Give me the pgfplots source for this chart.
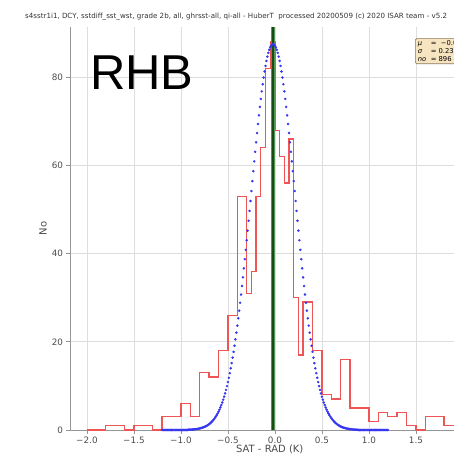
\documentclass[border=0pt]{standalone}
\usepackage{pgfplots}
\pgfplotsset{compat=1.18}
\usepackage{fontspec}
\setmainfont{DejaVu Sans}
\newfontfamily\rhbfont{Liberation Sans}
\definecolor{histred}{RGB}{240,85,85}
\definecolor{dotblue}{RGB}{55,55,240}
\definecolor{meangreen}{RGB}{80,150,80}
\definecolor{meandark}{RGB}{25,75,25}
\definecolor{gridgray}{RGB}{222,222,222}
\definecolor{spinegray}{RGB}{150,150,150}
\definecolor{boxfill}{RGB}{247,228,192}
\definecolor{boxdraw}{RGB}{140,120,90}
\begin{document}
\begin{tikzpicture}
\begin{axis}[
  at={(0pt,0pt)}, anchor=south west,
  scale only axis, width=399.5pt, height=403pt,
  xmin=-2.18, xmax=2.07, ymin=0, ymax=91.4,
  axis x line*=bottom, axis y line*=left,
  axis line style={spinegray, line width=0.8pt},
  xtick={-2,-1.5,-1,-0.5,0,0.5,1,1.5,2},
  xticklabels={−2.0,−1.5,−1.0,−0.5,0.0,0.5,1.0,1.5,2.0},
  ytick={0,20,40,60,80},
  grid=major, major grid style={gridgray, line width=0.8pt},
  tick align=outside, major tick length=3.5pt,
  tick style={spinegray, line width=0.8pt},
  /pgf/number format/assume math mode=true,
  ticklabel style={font=\fontsize{8.8}{10}\selectfont, text=black!70},
  xlabel={SAT - RAD (K)}, ylabel={No},
  label style={font=\fontsize{10}{12}\selectfont, text=black!70},
  xlabel style={at={(rel axis cs:0.5,0)}, anchor=center, yshift=-19pt},
  ylabel style={at={(rel axis cs:0,0.5)}, anchor=center, rotate=0, yshift=27pt},
]
\addplot[histred, line width=1.3pt, const plot mark left] coordinates {
(-2.0,0) (-1.8,1) (-1.6,0) (-1.5,1) (-1.3,0) (-1.2,3) (-1.0,6) (-0.9,3)
(-0.8,13) (-0.7,12) (-0.6,18) (-0.5,26) (-0.4,53) (-0.3,31) (-0.25,36)
(-0.2,53) (-0.15,64) (-0.1,82) (-0.05,88) (0.0,68) (0.05,62) (0.1,56)
(0.15,66) (0.2,30) (0.25,17) (0.3,29) (0.4,18) (0.5,8) (0.6,7) (0.7,16)
(0.8,5) (1.0,2) (1.1,4) (1.2,3) (1.3,4) (1.4,1) (1.5,0) (1.6,3) (1.8,1) (2.0,0)
};
\addplot[only marks, mark=*, mark size=1.05pt, dotblue] table {
x y
-1.20 0
-1.19 0
-1.18 0
-1.17 0
-1.16 0
-1.15 0
-1.14 0
-1.13 0
-1.12 0
-1.11 0
-1.10 0
-1.09 0
-1.08 0
-1.07 0
-1.06 0
-1.05 0
-1.04 0
-1.03 0
-1.02 0
-1.01 0
-1.00 0
-0.99 0
-0.98 0
-0.97 0
-0.96 0
-0.95 0
-0.94 0
-0.93 0
-0.92 0.06
-0.91 0.07
-0.90 0.08
-0.89 0.09
-0.88 0.11
-0.87 0.13
-0.86 0.15
-0.85 0.17
-0.84 0.20
-0.83 0.23
-0.82 0.27
-0.81 0.31
-0.80 0.35
-0.79 0.41
-0.78 0.47
-0.77 0.54
-0.76 0.61
-0.75 0.70
-0.74 0.80
-0.73 0.91
-0.72 1.04
-0.71 1.18
-0.70 1.33
-0.69 1.50
-0.68 1.69
-0.67 1.91
-0.66 2.14
-0.65 2.41
-0.64 2.69
-0.63 3.01
-0.62 3.36
-0.61 3.74
-0.60 4.16
-0.59 4.62
-0.58 5.12
-0.57 5.66
-0.56 6.24
-0.55 6.88
-0.54 7.56
-0.53 8.30
-0.52 9.10
-0.51 9.95
-0.50 10.87
-0.49 11.84
-0.48 12.89
-0.47 13.99
-0.46 15.17
-0.45 16.41
-0.44 17.72
-0.43 19.10
-0.42 20.55
-0.41 22.08
-0.40 23.67
-0.39 25.33
-0.38 27.07
-0.37 28.86
-0.36 30.72
-0.35 32.65
-0.34 34.62
-0.33 36.65
-0.32 38.74
-0.31 40.86
-0.30 43.03
-0.29 45.22
-0.28 47.45
-0.27 49.69
-0.26 51.94
-0.25 54.20
-0.24 56.45
-0.23 58.70
-0.22 60.92
-0.21 63.10
-0.20 65.25
-0.19 67.35
-0.18 69.40
-0.17 71.37
-0.16 73.27
-0.15 75.09
-0.14 76.80
-0.13 78.42
-0.12 79.93
-0.11 81.31
-0.10 82.57
-0.09 83.70
-0.08 84.69
-0.07 85.54
-0.06 86.24
-0.05 86.79
-0.04 87.18
-0.03 87.42
-0.02 87.50
-0.01 87.42
0.00 87.18
0.01 86.79
0.02 86.24
0.03 85.54
0.04 84.69
0.05 83.70
0.06 82.57
0.07 81.31
0.08 79.93
0.09 78.42
0.10 76.80
0.11 75.09
0.12 73.27
0.13 71.37
0.14 69.40
0.15 67.35
0.16 65.25
0.17 63.10
0.18 60.92
0.19 58.70
0.20 56.45
0.21 54.20
0.22 51.94
0.23 49.69
0.24 47.45
0.25 45.22
0.26 43.03
0.27 40.86
0.28 38.74
0.29 36.65
0.30 34.62
0.31 32.65
0.32 30.72
0.33 28.86
0.34 27.07
0.35 25.33
0.36 23.67
0.37 22.08
0.38 20.55
0.39 19.10
0.40 17.72
0.41 16.41
0.42 15.17
0.43 13.99
0.44 12.89
0.45 11.84
0.46 10.87
0.47 9.95
0.48 9.10
0.49 8.30
0.50 7.56
0.51 6.88
0.52 6.24
0.53 5.66
0.54 5.12
0.55 4.62
0.56 4.16
0.57 3.74
0.58 3.36
0.59 3.01
0.60 2.69
0.61 2.41
0.62 2.14
0.63 1.91
0.64 1.69
0.65 1.50
0.66 1.33
0.67 1.18
0.68 1.04
0.69 0.91
0.70 0.80
0.71 0.70
0.72 0.61
0.73 0.54
0.74 0.47
0.75 0.41
0.76 0.35
0.77 0.31
0.78 0.27
0.79 0.23
0.80 0.20
0.81 0.17
0.82 0.15
0.83 0.13
0.84 0.11
0.85 0.09
0.86 0.08
0.87 0.07
0.88 0.06
0.89 0
0.90 0
0.91 0
0.92 0
0.93 0
0.94 0
0.95 0
0.96 0
0.97 0
0.98 0
0.99 0
1.00 0
1.01 0
1.02 0
1.03 0
1.04 0
1.05 0
1.06 0
1.07 0
1.08 0
1.09 0
1.10 0
1.11 0
1.12 0
1.13 0
1.14 0
1.15 0
1.16 0
1.17 0
1.18 0
1.19 0
1.20 0
};
\addplot[meangreen, line width=4pt] coordinates {(-0.02,0) (-0.02,91.4)};
\addplot[meandark, line width=1.3pt] coordinates {(-0.02,0) (-0.02,91.4)};
\end{axis}
% pixel (px,py) of the reference -> (px-70 pt, 430-py pt)
\node[anchor=west, font=\fontsize{7.1}{8}\selectfont, text=black!80, inner sep=0] at (-45pt,413pt)
  {s4sstr1i1, DCY, sstdiff\_sst\_wst, grade 2b, all, ghrsst-all, qi-all - HuberT\ \ processed 20200509 (c) 2020 ISAR team - v5.2};
\node[anchor=base west, font=\rhbfont\fontsize{49}{49}\selectfont, inner sep=0] at (20pt,340pt) {RHB};
\node[draw=boxdraw, fill=boxfill, rounded corners=1.5pt, anchor=north west, align=left,
  font=\fontsize{6.8}{7.8}\selectfont, inner xsep=2.5pt, inner ysep=2.2pt, line width=0.6pt] at (345pt,391.7pt)
  {\makebox[13pt][l]{\textit{μ}}=\ \ −0.025\\\makebox[13pt][l]{\textit{σ}}= 0.235\\\makebox[13pt][l]{\textit{no}}= 896};
\pgfresetboundingbox
\useasboundingbox (-70pt,430pt) rectangle (383pt,-31pt);
\end{tikzpicture}
\end{document}
